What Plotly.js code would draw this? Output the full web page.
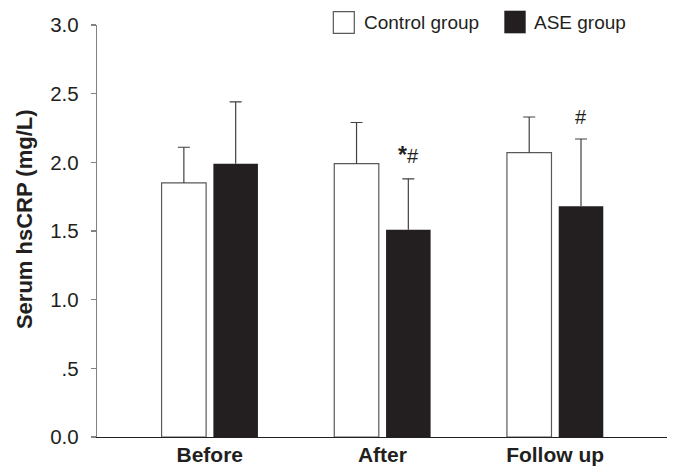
<!DOCTYPE html>
<html>
<head>
<meta charset="utf-8">
<script src="https://cdn.plot.ly/plotly-3.0.1.min.js"></script>
<style>html,body{margin:0;padding:0;background:#fff;}#chart{width:674px;height:469px;}</style>
</head>
<body>
<div id="chart"></div>
<script>
var categories = ["Before", "After", "Follow up"];
var controlValues = [1.85, 1.99, 2.07];
var controlErrors = [0.26, 0.30, 0.26];
var aseValues = [1.99, 1.51, 1.68];
var aseErrors = [0.45, 0.37, 0.49];
var seriesNames = ["Control group", "ASE group"];
var yTickValues = [0, 0.5, 1.0, 1.5, 2.0, 2.5, 3.0];
var yTickLabels = ["0.0", ".5", "1.0", "1.5", "2.0", "2.5", "3.0"];
var significance = ["", "<span style=\"font-size:23px\"><b>*</b></span>#", "#"];

var zeros = controlValues.map(function(){ return 0; });
var font = "Liberation Sans, Arial, Helvetica, sans-serif";
var ink = "#231f20";
var errColor = "#414042";

function tops(vals, errs){ return vals.map(function(v, i){ return v + errs[i]; }); }

function barTrace(name, vals, errs, group, fill, lineColor, lineWidth){
  return {
    type: "bar", name: name, x: categories, y: vals, offsetgroup: group,
    marker: {color: fill, line: {color: lineColor, width: lineWidth}},
    error_y: {type: "data", symmetric: false, array: errs, arrayminus: zeros,
              color: errColor, thickness: 1.2, width: 0},
    showlegend: false, hoverinfo: "x+y"
  };
}
function capTrace(name, vals, errs, group){
  return {
    type: "bar", name: name + " cap", x: categories, y: zeros, base: tops(vals, errs),
    offsetgroup: group,
    marker: {color: "rgba(0,0,0,0)", line: {width: 0}},
    error_y: {type: "data", symmetric: false, array: zeros, arrayminus: zeros,
              color: errColor, thickness: 1.2, width: 6},
    showlegend: false, hoverinfo: "skip"
  };
}

var traces = [
  barTrace(seriesNames[0], controlValues, controlErrors, "control", "#ffffff", "#58595b", 1.2),
  barTrace(seriesNames[1], aseValues, aseErrors, "ase", ink, ink, 0),
  capTrace(seriesNames[0], controlValues, controlErrors, "control"),
  capTrace(seriesNames[1], aseValues, aseErrors, "ase")
];

var annotations = [];
categories.forEach(function(c, i){
  if (significance[i]) {
    annotations.push({
      x: c, y: aseValues[i] + aseErrors[i], xref: "x", yref: "y",
      text: significance[i], showarrow: false, xanchor: "center", yanchor: "bottom",
      xshift: 26, yshift: 9, font: {family: font, size: 20, color: ink}
    });
  }
});
// y axis title
annotations.push({
  xref: "paper", yref: "paper", x: -0.128, y: 0.529, textangle: -90,
  text: "<b>Serum hsCRP (mg/L)</b>", showarrow: false, xanchor: "center", yanchor: "middle",
  font: {family: font, size: 22, color: ink}
});
// legend texts
annotations.push({
  xref: "paper", yref: "paper", x: 0.4644, y: 1.006, text: seriesNames[0],
  showarrow: false, xanchor: "left", yanchor: "middle", font: {family: font, size: 19, color: ink}
});
annotations.push({
  xref: "paper", yref: "paper", x: 0.7626, y: 1.006, text: seriesNames[1],
  showarrow: false, xanchor: "left", yanchor: "middle", font: {family: font, size: 19, color: ink}
});

var shapes = [
  {type: "rect", xref: "paper", yref: "paper", x0: 0.4146, x1: 0.4514, y0: 0.9798, y1: 1.0323,
   fillcolor: "#ffffff", line: {color: "#58595b", width: 1.2}},
  {type: "rect", xref: "paper", yref: "paper", x0: 0.7146, x1: 0.7521, y0: 0.9798, y1: 1.0347,
   fillcolor: ink, line: {color: ink, width: 0}}
];

var layout = {
  width: 674, height: 469,
  margin: {l: 97, r: 7, t: 25, b: 32, pad: 0},
  paper_bgcolor: "#ffffff", plot_bgcolor: "#ffffff",
  barmode: "group", bargap: 0.4, bargroupgap: 0.14,
  showlegend: false,
  font: {family: font, color: ink},
  xaxis: {
    type: "category", range: [-0.653, 2.648], showgrid: false, zeroline: false,
    showline: true, linecolor: ink, linewidth: 1.2, ticks: "",
    tickfont: {family: font, size: 21, color: ink, weight: "bold"},
    ticklabelstandoff: -1
  },
  yaxis: {
    range: [0, 3], showgrid: false, zeroline: false, showline: true,
    linecolor: "#808285", linewidth: 1.2, ticks: "outside", ticklen: 5, tickwidth: 1.2,
    tickcolor: "#808285", tickvals: yTickValues, ticktext: yTickLabels,
    tickfont: {family: font, size: 20.5, color: ink}, ticklabelstandoff: 8
  },
  annotations: annotations,
  shapes: shapes
};

Plotly.newPlot("chart", traces, layout, {displayModeBar: false, staticPlot: true});
</script>
</body>
</html>
